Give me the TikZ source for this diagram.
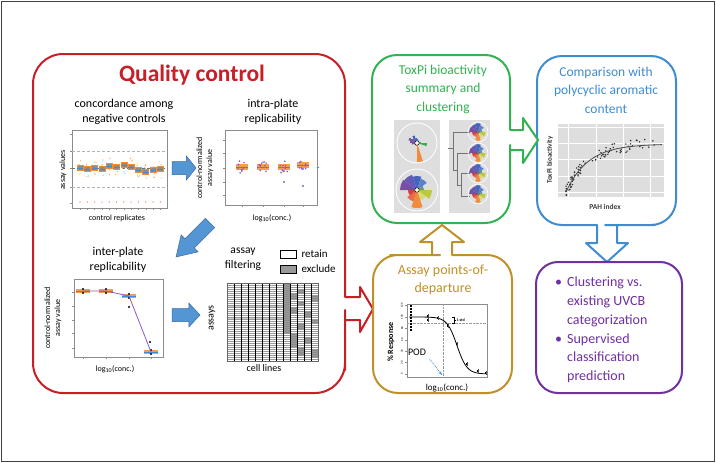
\documentclass[tikz,border=0pt]{standalone}
\usepackage{fontspec}
\setmainfont{Carlito}
\usetikzlibrary{arrows.meta}

\definecolor{qcred}{RGB}{200,30,38}
\definecolor{toxgreen}{RGB}{50,178,80}
\definecolor{pahblue}{RGB}{62,140,210}
\definecolor{podgold}{RGB}{192,145,40}
\definecolor{predpurple}{RGB}{112,48,160}
\definecolor{arrowfill}{RGB}{84,150,212}
\definecolor{arrowline}{RGB}{55,105,160}
\definecolor{ptorange}{RGB}{240,140,50}
\definecolor{ptpurple}{RGB}{140,90,200}
\definecolor{panelgray}{RGB}{222,222,222}
\definecolor{pieyg}{RGB}{190,200,60}
\definecolor{pielime}{RGB}{215,220,120}
\definecolor{pieorange}{RGB}{240,140,60}
\definecolor{pieorangeb}{RGB}{230,110,70}
\definecolor{piered}{RGB}{225,60,60}
\definecolor{piepurple}{RGB}{120,80,160}
\definecolor{pieviolet}{RGB}{100,90,180}
\definecolor{pieblue}{RGB}{70,100,190}
\definecolor{piebluea}{RGB}{90,130,200}
\definecolor{pieteal}{RGB}{100,150,150}

\tikzset{
	outline/.style={line width=2pt, line join=round, fill=white},
	boxtitle/.style={font=\fontsize{13.5}{18.5}\selectfont, align=center},
	subtitle/.style={font=\fontsize{12}{15}\selectfont, align=center},
	axlabel/.style={font=\fontsize{8}{10}\selectfont, align=center},
	plotframe/.style={draw=black!45, line width=0.6pt, fill=white},
	barrow/.style={fill=arrowfill, draw=arrowline, line width=0.5pt},
}

% freccia blu: posizione, angolo, lunghezza
\newcommand{\bluearrow}[3]{%
	\draw[barrow, shift={#1}, rotate=#2] (0,-6.5) -- ({#3*0.6},-6.5) -- ({#3*0.6},-12) -- (#3,0) -- ({#3*0.6},12) -- ({#3*0.6},6.5) -- (0,6.5) -- cycle;}

% torta ToxPi: centro, scala, fette, ampiezza fetta
\newcommand{\toxpi}[4]{%
	\foreach \r/\c [count=\k from 0] in #3
		\fill[\c] #1 -- ++({\k*#4}:{\r*#2}) arc[start angle=\k*#4, delta angle=#4, radius=\r*#2] -- cycle;
	\draw[black, fill=white, line width=0.4pt] #1 circle ({1.8*#2+0.4});}

\def\bigslices{15/pieyg,11/pielime,18/pieorange,12/pieorangeb,9/piered,17/piepurple,16/pieviolet,14/pieblue,12/piebluea,7/pieteal}
\def\smallslices{10/toxgreen,2/pielime,2/pielime,3/pielime,19/pieorange,3/pieorangeb,2/piered,3/piered,2/piered,5/piepurple,7/piepurple,9/piepurple,6/pieviolet,8/pieblue,5/pieblue,4/piebluea,3/piebluea,2/pieteal,2/pieteal,4/toxgreen}
\def\minislices{14/pieyg,12/pielime,16/pieorange,10/pieorangeb,11/piered,16/piepurple,15/pieviolet,16/pieblue,13/piebluea,8/pieteal}

\begin{document}
\begin{tikzpicture}[x=1pt, y=-1pt]
	\useasboundingbox (0,0) rectangle (716,463);
	\draw[black!75, line width=1.2pt] (1.5,1.5) rectangle (714.5,461.5); % cornice

	% riquadri con frecce
	\draw[outline, draw=qcred] (345,297) -- (345,280) [rounded corners=30pt] -- (345,54) -- (33,54) -- (33,393) -- (345,393) -- (345,340) [sharp corners] -- (345,320) -- (360,320) -- (360,332) -- (373,309) -- (360,287) -- (360,297) -- cycle;
	\draw[outline, draw=pahblue] (597,225) -- (580,225) [rounded corners=25pt] -- (537,225) -- (537,56) -- (676,56) -- (676,225) -- (630,225) [sharp corners] -- (617,225) -- (617,243) -- (628,243) -- (607,262) -- (586,243) -- (597,243) -- cycle;
	\draw[outline, draw=toxgreen] (510,130) -- (510,110) [rounded corners=25pt] -- (510,55) -- (372,55) -- (372,223) -- (510,223) -- (510,170) [sharp corners] -- (510,150) -- (523,150) -- (523,163) -- (538,140) -- (523,118) -- (523,130) -- cycle;
	\draw[outline, draw=podgold] (452,255) -- (470,255) [rounded corners=25pt] -- (512,255) -- (512,393) -- (373,393) -- (373,255) -- (415,255) [sharp corners] -- (432,255) -- (432,242) -- (420,242) -- (442,225) -- (464,242) -- (452,242) -- cycle;
	\draw[outline, draw=predpurple, rounded corners=22pt] (536,262) rectangle (682,393);

	% titoli
	\node[font=\fontsize{23.5}{26}\selectfont\bfseries, text=qcred] (qc) at (192,75) {Quality control};
	\node[boxtitle, text=toxgreen] (toxt) at (443,89) {ToxPi bioactivity\\summary and\\clustering};
	\node[boxtitle, text=pahblue] (paht) at (606,90) {Comparison with\\polycyclic aromatic\\content};
	\node[boxtitle, text=podgold, font=\fontsize{14}{17.5}\selectfont] (podt) at (443,280) {Assay points-of-\\departure};
	\node[text=predpurple, font=\fontsize{14}{18.8}\selectfont, anchor=west, inner sep=0pt] (pred) at (555,330)
		{\begin{tabular}{@{}l@{\hspace{5pt}}l@{}}
			\textbullet & Clustering vs.\\
			& existing UVCB\\
			& categorization\\
			\textbullet & Supervised\\
			& classification\\
			& prediction
		\end{tabular}};

	% concordanza controlli negativi
	\node[subtitle] (conc) at (124,112) {concordance among\\negative controls};
	\draw[plotframe] (72,130) rectangle (167,208);
	\foreach \y in {151,187} \draw[black!30, densely dashed] (72,\y) -- (167,\y);
	\draw[black!55, densely dashed] (72,168) -- (167,168);
	\foreach \y in {134,151,168,187,203} \draw[black!45] (72,\y) -- ++(-2,0);
	\pgfmathsetseed{3}
	\foreach \d [count=\i from 0] in {0,1,0,1,-2,-1,-3,-1,2,4,2,1} {
		\foreach \k in {1,...,5} \fill[ptorange!80] ({80+\i*7.3+1.5*rand},{168+\d+9*rand}) circle (0.6);
		\draw[ptorange, fill=black!45, line width=0.5pt] ({80+\i*7.3-3},{168+\d-2.5}) rectangle ({80+\i*7.3+3},{168+\d+2.5});
		\draw[pahblue, line width=0.6pt] ({80+\i*7.3-3},{168+\d}) -- ({80+\i*7.3+3},{168+\d});
		\fill[red!75] ({80+\i*7.3},202) circle (0.6);
		\draw[black!45] ({80+\i*7.3},208) -- ++(0,2);
	}
	\node[axlabel, rotate=90] (concy) at (63,170) {assay values};
	\node[axlabel] (concx) at (117,218) {control replicates};

	% replicabilita intra-plate
	\node[subtitle] (intra) at (273,112) {intra-plate\\replicability};
	\draw[plotframe] (225,130) rectangle (317,205);
	\foreach \y in {140,153,168,182,195} \draw[black!45] (225,\y) -- ++(-2,0);
	\foreach \x/\d in {242/0,263/0,284/0,303/-2} {
		\fill[ptorange!85] ({\x-6},{167+\d-3}) rectangle ({\x+6},{167+\d+3});
		\draw[pahblue, line width=0.8pt] ({\x-6},{167+\d}) -- ({\x+6},{167+\d});
		\foreach \k in {1,...,10} \fill[ptpurple] ({\x+4*rand},{167+\d+6*rand}) circle (0.9);
		\draw[black!45] (\x,205) -- ++(0,2);
	}
	\fill[ptpurple] (284,182) circle (1.1);
	\fill[ptpurple] (303,186) circle (1.1);
	\draw[red!70] (317,167) -- ++(2,0);
	\node[axlabel, rotate=90] (intray) at (205,168) {control-normalized\\assay value};
	\node[axlabel] (intrax) at (272,218) {log\textsubscript{10}(conc.)};

	% replicabilita inter-plate
	\node[subtitle] (inter) at (118,260) {inter-plate\\replicability};
	\draw[plotframe] (74,279) rectangle (163,357);
	\foreach \y in {292,306,320,333,348} \draw[black!45] (74,\y) -- ++(-2,0);
	\foreach \x/\y in {83/291,106/291,129/296,151/352} {
		\fill[ptorange!85] ({\x-7},{\y-2}) rectangle ({\x+7},{\y+2});
		\draw[pahblue, line width=0.8pt] ({\x-7},\y) -- ({\x+7},\y);
		\fill (\x,{\y-2}) circle (1.1);
		\fill (\x,{\y+2}) circle (1.1);
		\draw[black!45] (\x,357) -- ++(0,2);
	}
	\draw[ptpurple, line width=0.8pt] (83,291) -- (106,291) -- (129,296) -- (151,352);
	\fill (129,307) circle (1.1);
	\fill (150,342) circle (1.1);
	\node[axlabel, rotate=90] (intery) at (53,318) {control-normalized\\assay value};
	\node[axlabel] (interx) at (115,369) {log\textsubscript{10}(conc.)};

	% filtro saggi
	\node[subtitle, font=\fontsize{11.5}{14.5}\selectfont] (filt) at (243,259) {assay\\filtering};
	\draw[black, line width=0.6pt] (280,250) rectangle (296,258);
	\draw[black, fill=black!40, line width=0.6pt] (280,265) rectangle (296,273);
	\node[anchor=west, font=\fontsize{11}{13}\selectfont] (ret) at (298,254) {retain};
	\node[anchor=west, font=\fontsize{11}{13}\selectfont] (excl) at (298,269) {exclude};
	\fill[white] (227,283) rectangle (318,361);
	\fill[black!20] (227,305) rectangle (283,307);
	\fill[black!20] (227,317) rectangle (283,319);
	\foreach \c/\a/\b in {8/0/25,9/5/8,9/12/15,9/25/32,10/3/5,10/9/11,10/20/23,10/32/36,11/14/17,11/27/30,12/6/9,12/18/20,12/33/37}
		\fill[black!45] ({227+7*\c},{283+2*\a}) rectangle ({227+7*(\c+1)},{283+2*\b});
	\foreach \r in {1,...,38} \draw[black!40, line width=0.3pt] (227,{283+2*\r}) -- (318,{283+2*\r});
	\foreach \c in {0,...,13} \draw[black, line width=0.6pt] ({227+7*\c},283) -- ({227+7*\c},361);
	\draw[black!60, line width=0.6pt] (227,283) rectangle (318,361);
	\node[rotate=90, font=\fontsize{10}{12}\selectfont] (assy) at (212,318) {assays};
	\node[font=\fontsize{10}{12}\selectfont] (cells) at (264,368) {cell lines};

	% frecce blu interne
	\bluearrow{(172,168)}{0}{24}
	\bluearrow{(210,223)}{225}{48}
	\bluearrow{(172,315)}{0}{28}

	% pannelli ToxPi
	\fill[panelgray] (394,120) rectangle (440,213);
	\fill[panelgray] (449,120) rectangle (490,213);
	\draw[white, line width=0.8pt] (417,143) circle (20);
	\draw[white, line width=0.8pt] (417,190) circle (21);
	\toxpi{(417,143)}{1}{\smallslices}{18}
	\toxpi{(417,190)}{1}{\bigslices}{36}
	\draw[black!55, line width=0.7pt] (448,148) -- (453,148);
	\draw[black!55, line width=0.7pt] (470,132) -- (453,132) -- (453,170) -- (457,170);
	\draw[black!55, line width=0.7pt] (470,153) -- (457,153) -- (457,185) -- (461,185);
	\draw[black!55, line width=0.7pt] (470,173) -- (461,173) -- (461,196) -- (470,196);
	\foreach \y in {132,153,173,194} {
		\draw[white, line width=0.6pt] (478,\y) circle (10);
		\toxpi{(478,\y)}{0.55}{\minislices}{36}
	}

	% confronto con indice PAH
	\fill[panelgray] (558,124) rectangle (664,197);
	\foreach \x in {568,596,623,650} \draw[white, line width=0.6pt] (\x,124) -- (\x,197);
	\foreach \y in {127,143,159,176,192} \draw[white, line width=0.6pt] (558,\y) -- (664,\y);
	\pgfmathsetseed{11}
	\foreach \k in {1,...,90} {
		\pgfmathsetmacro\px{566+92*pow(rnd,1.7)}
		\pgfmathsetmacro\py{min(max(192-48*(1-exp(-(\px-566)/22))+6*rand,127),195)}
		\fill[black!85] (\px,\py) circle (0.8);
	}
	\draw[black!70, line width=0.8pt] plot[domain=566:662, samples=40] (\x,{192-48*(1-exp(-(\x-566)/22))});
	\node[rotate=90, font=\fontsize{7}{8}\selectfont\bfseries, text=black!80] (pahy) at (550,160) {ToxPi bioactivity};
	\node[font=\fontsize{7.5}{8}\selectfont\bfseries, text=black!75] (pahx) at (605,207) {PAH index};

	% curva dose-risposta
	\draw[plotframe] (407,304) rectangle (487,377);
	\draw[black!40, densely dotted] (443,304) -- (443,377);
	\draw[black!40, densely dotted] (407,323) -- (487,323);
	\foreach \v in {0,20,...,120} {
		\draw[black!45] (407,{374-0.57*\v}) -- ++(-2,0);
		\node[rotate=90, font=\fontsize{3}{3}\selectfont, inner sep=0pt] at (402,{374-0.57*\v}) {\v};
	}
	\draw[black, line width=0.8pt] plot[domain=409:486, samples=60] (\x,{374-57/(1+exp((\x-457)/5))});
	\foreach \y in {305,308,311,314,317,320,323,326,329} \fill (410,\y) rectangle ++(1.6,1.6);
	\foreach \x/\y in {428/316,428/320,438/318,448/326,457/344,467/364,478/371,486/373} {
		\fill ({\x-0.8},{\y-0.8}) rectangle ++(1.6,1.6);
		\draw[black!70] (\x,{\y-2}) -- (\x,{\y+2});
	}
	\draw[black, line width=0.5pt] (452,317) -- (454,317) -- (454,323) -- (452,323) (454,320) -- (456,320);
	\node[anchor=west, font=\fontsize{4}{4}\selectfont\bfseries, inner sep=0.5pt] (std) at (456,320) {1 std};
	\node[font=\fontsize{10}{12}\selectfont] (pod) at (417,352) {POD};
	\coordinate (podend) at (442,375);
	\draw[pahblue, densely dotted, line width=0.8pt, -{Stealth[length=4pt]}] (pod.south east) -- (podend);
	\node[rotate=90, font=\fontsize{8}{9}\selectfont\bfseries] (resp) at (391,342) {\% Response};
	\node[font=\fontsize{9}{10}\selectfont] (podx) at (447,388) {log\textsubscript{10}(conc.)};
\end{tikzpicture}
\end{document}
